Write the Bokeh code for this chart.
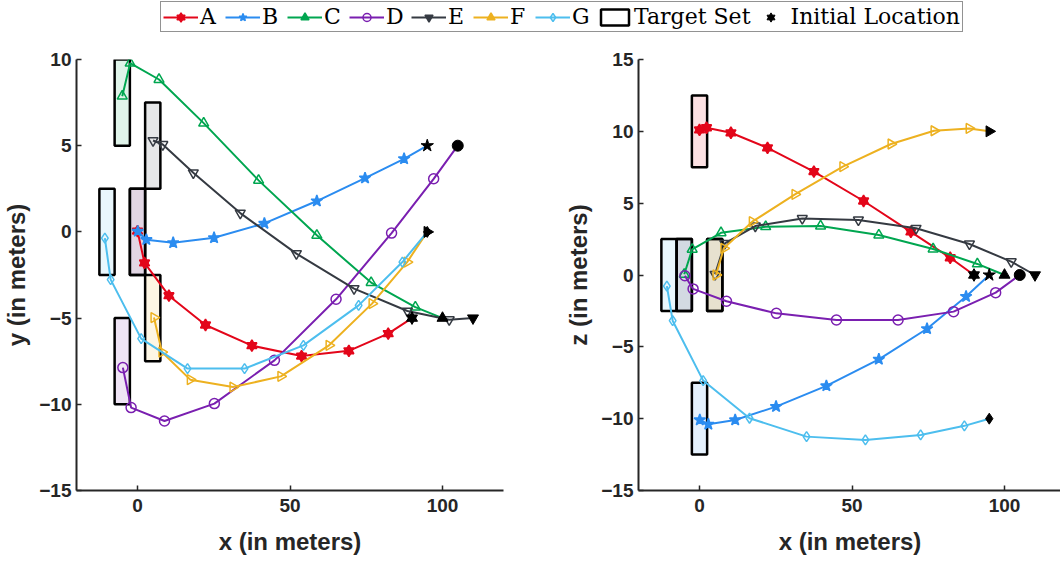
import numpy as np
from bokeh.plotting import figure
from bokeh.layouts import column, row
from bokeh.models import Legend, LegendItem, Range1d, FixedTicker, ColumnDataSource
from bokeh.embed import file_html
from bokeh.resources import INLINE

# ---------------- data ----------------
names = ["A", "B", "C", "D", "E", "F", "G"]
colors = ["#E3061A", "#2B8CF0", "#00A650", "#7A1FB0", "#353A42", "#EDB120", "#4DBEEE"]
markers = ["hexagram", "star", "triangle", "circle", "inverted_triangle", "right_triangle", "diamond"]
filled = [True, True, False, False, False, False, False]
legend_filled = [True, True, True, False, True, True, False]

A_x = [90, 82.2, 69.3, 53.8, 37.5, 22.3, 10.3, 2.3, 0.0]
A_y = [-5, -5.9, -6.9, -7.2, -6.6, -5.4, -3.7, -1.8, 0.05]
A_z = [0, 1.2, 3.0, 5.15, 7.2, 8.85, 9.9, 10.25, 10.1]
B_x = [95, 87.4, 74.6, 58.8, 41.6, 25.1, 11.7, 2.9, 0.1]
B_y = [5, 4.24, 3.12, 1.79, 0.49, -0.34, -0.63, -0.45, 0.03]
B_z = [0, -1.5, -3.74, -5.87, -7.72, -9.16, -10.09, -10.39, -10.09]
C_x = [100, 91.1, 76.6, 58.8, 39.7, 21.7, 7.05, -2.4, -5.0]
C_y = [-5, -4.36, -2.94, -0.2, 2.99, 6.31, 8.84, 9.79, 7.87]
C_z = [0, 0.77, 1.81, 2.78, 3.41, 3.36, 2.94, 1.79, 0.05]
D_x = [105, 97.1, 83.3, 65.1, 44.9, 25.2, 8.85, -2.1, -4.8]
D_y = [5, 3.08, -0.07, -3.91, -7.45, -9.96, -10.97, -10.19, -7.87]
D_z = [0, -1.23, -2.55, -3.13, -3.13, -2.67, -1.83, -0.97, -0.05]
E_x = [110, 102.2, 88.5, 71.0, 52.1, 33.7, 18.3, 8.3, 5.1]
E_y = [-5, -5.09, -4.59, -3.29, -1.26, 1.09, 3.43, 5.07, 5.3]
E_z = [0, 0.93, 2.16, 3.25, 3.83, 3.94, 3.41, 2.2, 0.05]
F_x = [95, 88.4, 76.9, 62.8, 47.0, 31.3, 17.3, 8.0, 5.4]
F_y = [0, -1.75, -4.16, -6.58, -8.38, -9.0, -8.57, -6.97, -4.97]
F_z = [10, 10.2, 10.04, 9.12, 7.54, 5.61, 3.71, 1.86, 0.0]
G_x = [95, 86.85, 72.5, 54.4, 35.1, 16.4, 1.2, -8.8, -10.7]
G_y = [0, -1.75, -4.26, -6.58, -7.93, -7.93, -6.19, -2.77, -0.36]
G_z = [-10, -10.5, -11.13, -11.48, -11.25, -9.97, -7.35, -3.18, -0.77]

traj_x = [A_x, B_x, C_x, D_x, E_x, F_x, G_x]
traj_y = [A_y, B_y, C_y, D_y, E_y, F_y, G_y]
traj_z = [A_z, B_z, C_z, D_z, E_z, F_z, G_z]

# target set centres (cubes of side 5)
target_x = [0, 0, -5, -5, 5, 5, -10]
target_y = [0, 0, 7.5, -7.5, 5, -5, 0]
target_z = [10, -10, 0, 0, 0, 0, 0]
target_side = 5

x_ticks = [0, 50, 100]
y_ticks = [-15, -10, -5, 0, 5, 10]
z_ticks = [-15, -10, -5, 0, 5, 10, 15]

AX = "#262626"


def draw_marker(p, kind, xs, ys, color, size, fill, lw):
    kw = dict(size=size, line_color=color, fill_color=color,
              fill_alpha=1.0 if fill else 0.0, line_width=lw)
    rs = []
    if kind == "hexagram":
        rs.append(p.scatter(xs, ys, marker="triangle", **kw))
        rs.append(p.scatter(xs, ys, marker="inverted_triangle", **kw))
    elif kind == "right_triangle":
        src = ColumnDataSource(dict(x=list(xs), y=list(ys),
                                    a=[-np.pi / 2] * len(xs)))
        rs.append(p.scatter("x", "y", source=src, marker="triangle", angle="a", **kw))
    else:
        rs.append(p.scatter(xs, ys, marker=kind, **kw))
    return rs


def make_panel(vals, tcent, ylabel, yr, yticks, fw, xend, bl, br):
    p = figure(frame_width=fw, frame_height=431,
               x_range=Range1d(-20, xend), y_range=Range1d(*yr),
               output_backend="svg", toolbar_location=None,
               min_border_left=bl, min_border_right=br,
               min_border_top=25, min_border_bottom=67)
    p.outline_line_color = None
    p.grid.visible = False
    p.background_fill_color = "white"
    h = target_side / 2
    p.quad(left=[v - h for v in target_x], right=[v + h for v in target_x],
           bottom=[v - h for v in tcent], top=[v + h for v in tcent],
           fill_color=colors, fill_alpha=0.12, line_color="black", line_width=2.5)
    for i in range(len(names)):
        p.line(traj_x[i], vals[i], line_color=colors[i], line_width=2)
        draw_marker(p, markers[i], traj_x[i][1:], vals[i][1:], colors[i],
                    12 if markers[i] == "star" else 10, filled[i], 1.5)
    for i in range(len(names)):
        draw_marker(p, markers[i], traj_x[i][:1], vals[i][:1], "black",
                    13 if markers[i] == "star" else 11, True, 1)
    p.xaxis.ticker = FixedTicker(ticks=x_ticks)
    p.yaxis.ticker = FixedTicker(ticks=yticks)
    p.xaxis.axis_label = "x (in meters)"
    p.yaxis.axis_label = ylabel
    for ax in (p.xaxis, p.yaxis):
        ax.axis_line_width = 2
        ax.axis_line_color = AX
        ax.major_tick_in = 5
        ax.major_tick_out = 0
        ax.major_tick_line_color = AX
        ax.major_tick_line_width = 1.5
        ax.minor_tick_line_color = None
        ax.major_label_text_font = "Liberation Sans"
        ax.major_label_text_font_style = "bold"
        ax.major_label_text_font_size = "19px"
        ax.major_label_text_color = AX
        ax.axis_label_text_font = "Liberation Sans"
        ax.axis_label_text_font_style = "bold"
        ax.axis_label_text_font_size = "24px"
        ax.axis_label_text_color = AX
    p.xaxis.major_label_standoff = 8
    p.xaxis.axis_label_standoff = 13
    p.yaxis.major_label_standoff = 5
    p.yaxis.axis_label_standoff = 6
    return p


p1 = make_panel(traj_y, target_y, "y (in meters)", (-15, 10), y_ticks, 427, 120, 75, 58)
p2 = make_panel(traj_z, target_z, "z (in meters)", (-15, 15), z_ticks, 423, -20 + 423 / 3.05, 77, 0)

# ---------------- legend ----------------
lf = figure(width=1060, height=34, x_range=Range1d(0, 1), y_range=Range1d(0, 1),
            x_axis_type=None, y_axis_type=None, output_backend="svg",
            toolbar_location=None, min_border=0)
lf.outline_line_color = None
lf.grid.visible = False
items = []
for i, n in enumerate(names):
    lr = lf.line([-5, -4], [-5, -4], line_color=colors[i], line_width=2)
    mr = draw_marker(lf, markers[i], [-5], [-5], colors[i],
                     10 if markers[i] == "star" else 8, legend_filled[i], 1.5)
    items.append(LegendItem(label=n, renderers=[lr] + mr, index=0))
qr = lf.quad(left=[-5], right=[-4], bottom=[-5], top=[-4], fill_color="white",
             line_color="black", line_width=2.5)
items.append(LegendItem(label="Target Set", renderers=[qr]))
hr = draw_marker(lf, "hexagram", [-5], [-5], "black", 9, True, 1)
items.append(LegendItem(label="Initial Location", renderers=hr))

legend = Legend(items=items, orientation="horizontal", location=(160, 2),
                glyph_width=35, glyph_height=20, label_standoff=2, label_width=22,
                spacing=3, padding=2, margin=0,
                border_line_color=AX, border_line_width=1.5,
                label_text_font="DejaVu Serif", label_text_font_size="22px",
                label_text_color="black", background_fill_color="white",
                background_fill_alpha=1)
lf.add_layout(legend)

layout = column(lf, row(p1, p2))
open("out.html", "w").write(file_html(layout, INLINE))
